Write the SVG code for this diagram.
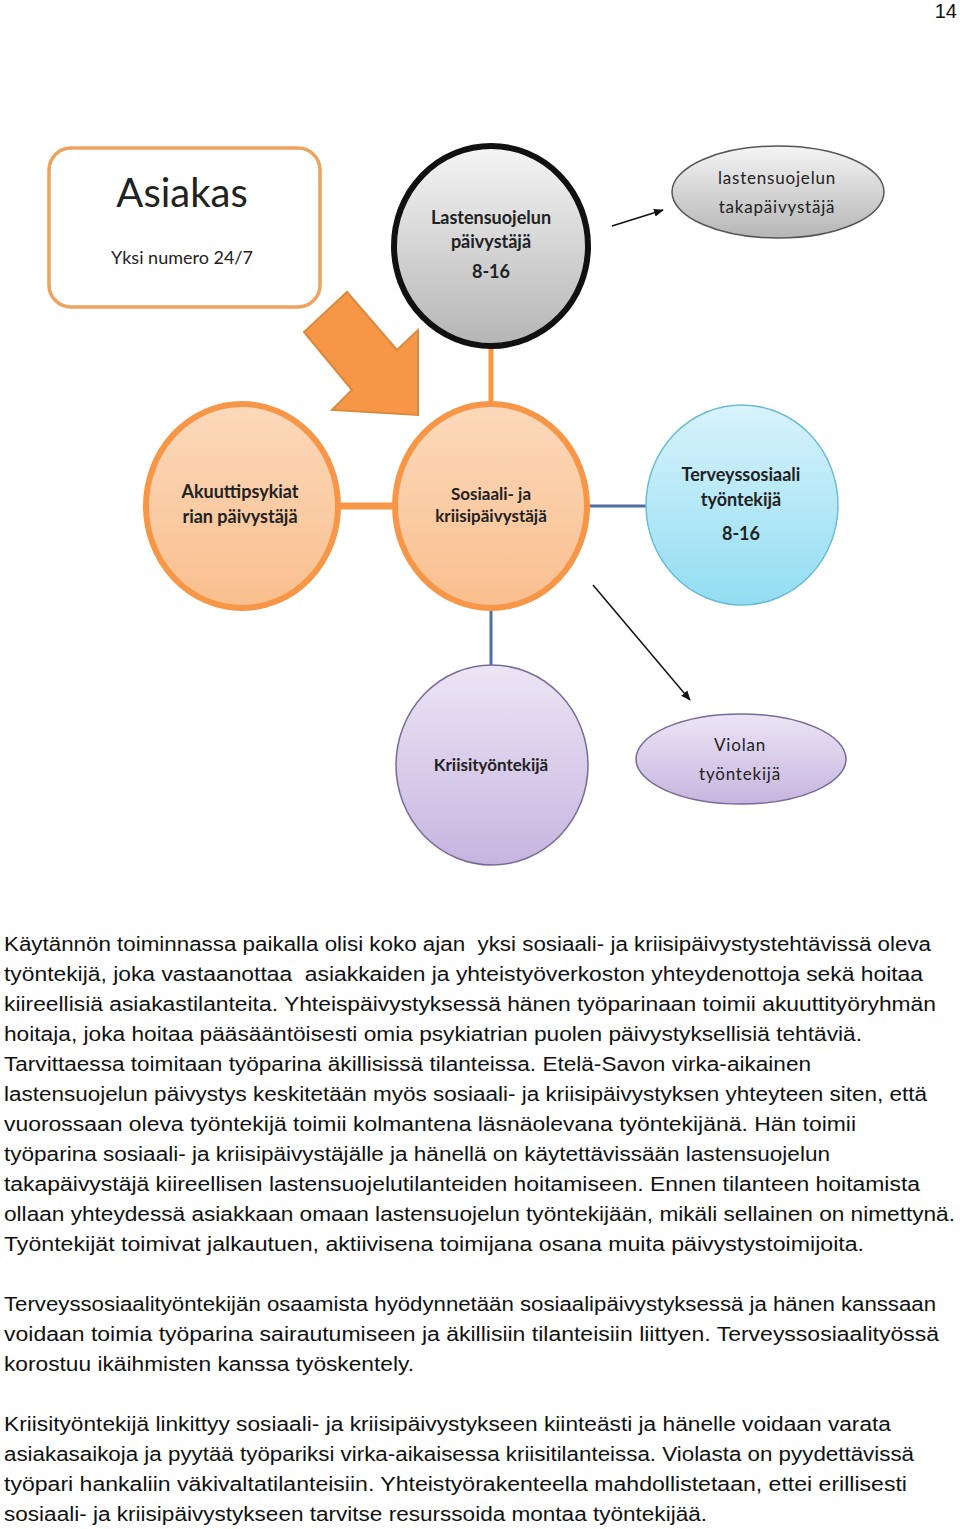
<svg xmlns="http://www.w3.org/2000/svg" width="960" height="1529" viewBox="0 0 960 1529">
<style>
.body{font-family:"Liberation Sans",Arial,sans-serif;font-size:20px;fill:#111;white-space:pre}
.lbl{font-family:Lato,"Open Sans","Liberation Sans",sans-serif;fill:#222;text-anchor:middle}
.b{font-weight:bold;font-size:18px}
.r{font-size:17px;letter-spacing:0.8px}
.orange{fill:url(#gOrange);stroke:#f79646;stroke-width:6}
</style>
<defs>
<linearGradient id="gGray" x1="0" y1="0" x2="0" y2="1"><stop offset="0" stop-color="#f5f5f5"/><stop offset="1" stop-color="#b5b5b5"/></linearGradient>
<linearGradient id="gOrange" x1="0" y1="0" x2="0" y2="1"><stop offset="0" stop-color="#fcd9bb"/><stop offset="1" stop-color="#f9bf8e"/></linearGradient>
<linearGradient id="gBlue" x1="0" y1="0" x2="0" y2="1"><stop offset="0" stop-color="#d8f3fb"/><stop offset="1" stop-color="#92ddf2"/></linearGradient>
<linearGradient id="gPurple" x1="0" y1="0" x2="0" y2="1"><stop offset="0" stop-color="#ece5f5"/><stop offset="1" stop-color="#c6b5df"/></linearGradient>
<marker id="ah" markerWidth="10" markerHeight="10" refX="9" refY="5" orient="auto" markerUnits="userSpaceOnUse"><path d="M0,1 L10,5 L0,9 Z" fill="#111"/></marker>
</defs>
<rect width="960" height="1529" fill="#fff"/>
<text x="957" y="18" text-anchor="end" style="font-family:'Liberation Sans',Arial,sans-serif;font-size:20px" fill="#111">14</text>

<g id="connectors">
<line x1="491" y1="348" x2="491" y2="405" stroke="#f79646" stroke-width="5"/>
<line x1="339" y1="506" x2="394" y2="506" stroke="#f79646" stroke-width="7"/>
<line x1="589" y1="506" x2="646" y2="506" stroke="#4f6fa0" stroke-width="3"/>
<line x1="491" y1="609" x2="491" y2="666" stroke="#4f6fa0" stroke-width="3"/>
<line x1="612" y1="226" x2="663" y2="210" stroke="#111" stroke-width="1.5" marker-end="url(#ah)"/>
<line x1="593" y1="585" x2="690" y2="700" stroke="#111" stroke-width="1.5" marker-end="url(#ah)"/>
<polygon points="347,292 397,350 418,330 418,415 332,410 352,390 304,332" fill="#f79646" stroke="#d98a3f" stroke-width="2" stroke-linejoin="miter"/>
</g>

<g id="asiakas">
<rect x="49" y="148" width="271" height="159" rx="22" fill="#fff" stroke="#eda25e" stroke-width="3.5"/>
<text x="182" y="207" class="lbl" style="font-size:40px" fill="#111">Asiakas</text>
<text x="182" y="264" class="lbl" style="font-size:18px">Yksi numero 24/7</text>
</g>

<g id="lastensuojelun-paivystaja">
<ellipse cx="491" cy="246" rx="97" ry="100" fill="url(#gGray)" stroke="#111" stroke-width="6"/>
<text x="491" y="224" class="lbl b">Lastensuojelun</text>
<text x="491" y="248" class="lbl b">päivystäjä</text>
<text x="491" y="278" class="lbl b">8-16</text>
</g>

<g id="takapaivystaja">
<ellipse cx="778" cy="192" rx="106" ry="46" fill="url(#gGray)" stroke="#555" stroke-width="1.5"/>
<text x="777" y="184" class="lbl r">lastensuojelun</text>
<text x="777" y="213" class="lbl r">takapäivystäjä</text>
</g>

<g id="akuuttipsykiatria">
<ellipse cx="242" cy="506" rx="96" ry="102" class="orange"/>
<text x="240" y="498" class="lbl b">Akuuttipsykiat</text>
<text x="240" y="523" class="lbl b">rian päivystäjä</text>
</g>

<g id="sosiaali-kriisi">
<ellipse cx="491" cy="506" rx="96" ry="102" class="orange"/>
<text x="491" y="500" class="lbl b" style="font-size:17px">Sosiaali- ja</text>
<text x="491" y="522" class="lbl b" style="font-size:17px">kriisipäivystäjä</text>
</g>

<g id="terveyssosiaali">
<ellipse cx="742" cy="505" rx="96" ry="100" fill="url(#gBlue)" stroke="#6cbcd4" stroke-width="1.5"/>
<text x="741" y="481" class="lbl b">Terveyssosiaali</text>
<text x="741" y="506" class="lbl b">työntekijä</text>
<text x="741" y="540" class="lbl b">8-16</text>
</g>

<g id="kriisityontekija">
<ellipse cx="492" cy="765" rx="96" ry="100" fill="url(#gPurple)" stroke="#7a6a96" stroke-width="1.5"/>
<text x="491" y="771" class="lbl b" style="font-size:17px">Kriisityöntekijä</text>
</g>

<g id="violan">
<ellipse cx="741" cy="759" rx="105" ry="45" fill="url(#gPurple)" stroke="#7a6a96" stroke-width="1.5"/>
<text x="740" y="751" class="lbl r">Violan</text>
<text x="740" y="780" class="lbl r">työntekijä</text>
</g>

<g id="text" xml:space="preserve">
<text class="body" x="4" y="951" textLength="927" lengthAdjust="spacingAndGlyphs">Käytännön toiminnassa paikalla olisi koko ajan  yksi sosiaali- ja kriisipäivystystehtävissä oleva</text>
<text class="body" x="4" y="981" textLength="919" lengthAdjust="spacingAndGlyphs">työntekijä, joka vastaanottaa  asiakkaiden ja yhteistyöverkoston yhteydenottoja sekä hoitaa</text>
<text class="body" x="4" y="1011" textLength="932" lengthAdjust="spacingAndGlyphs">kiireellisiä asiakastilanteita. Yhteispäivystyksessä hänen työparinaan toimii akuuttityöryhmän</text>
<text class="body" x="4" y="1041" textLength="858" lengthAdjust="spacingAndGlyphs">hoitaja, joka hoitaa pääsääntöisesti omia psykiatrian puolen päivystyksellisiä tehtäviä.</text>
<text class="body" x="4" y="1071" textLength="807" lengthAdjust="spacingAndGlyphs">Tarvittaessa toimitaan työparina äkillisissä tilanteissa. Etelä-Savon virka-aikainen</text>
<text class="body" x="4" y="1101" textLength="923" lengthAdjust="spacingAndGlyphs">lastensuojelun päivystys keskitetään myös sosiaali- ja kriisipäivystyksen yhteyteen siten, että</text>
<text class="body" x="4" y="1131" textLength="852" lengthAdjust="spacingAndGlyphs">vuorossaan oleva työntekijä toimii kolmantena läsnäolevana työntekijänä. Hän toimii</text>
<text class="body" x="4" y="1161" textLength="826" lengthAdjust="spacingAndGlyphs">työparina sosiaali- ja kriisipäivystäjälle ja hänellä on käytettävissään lastensuojelun</text>
<text class="body" x="4" y="1191" textLength="916" lengthAdjust="spacingAndGlyphs">takapäivystäjä kiireellisen lastensuojelutilanteiden hoitamiseen. Ennen tilanteen hoitamista</text>
<text class="body" x="4" y="1221" textLength="951" lengthAdjust="spacingAndGlyphs">ollaan yhteydessä asiakkaan omaan lastensuojelun työntekijään, mikäli sellainen on nimettynä.</text>
<text class="body" x="4" y="1251" textLength="860" lengthAdjust="spacingAndGlyphs">Työntekijät toimivat jalkautuen, aktiivisena toimijana osana muita päivystystoimijoita.</text>
<text class="body" x="4" y="1311" textLength="932" lengthAdjust="spacingAndGlyphs">Terveyssosiaalityöntekijän osaamista hyödynnetään sosiaalipäivystyksessä ja hänen kanssaan</text>
<text class="body" x="4" y="1341" textLength="935" lengthAdjust="spacingAndGlyphs">voidaan toimia työparina sairautumiseen ja äkillisiin tilanteisiin liittyen. Terveyssosiaalityössä</text>
<text class="body" x="4" y="1371" textLength="410" lengthAdjust="spacingAndGlyphs">korostuu ikäihmisten kanssa työskentely.</text>
<text class="body" x="4" y="1431" textLength="887" lengthAdjust="spacingAndGlyphs">Kriisityöntekijä linkittyy sosiaali- ja kriisipäivystykseen kiinteästi ja hänelle voidaan varata</text>
<text class="body" x="4" y="1461" textLength="910" lengthAdjust="spacingAndGlyphs">asiakasaikoja ja pyytää työpariksi virka-aikaisessa kriisitilanteissa. Violasta on pyydettävissä</text>
<text class="body" x="4" y="1491" textLength="903" lengthAdjust="spacingAndGlyphs">työpari hankaliin väkivaltatilanteisiin. Yhteistyörakenteella mahdollistetaan, ettei erillisesti</text>
<text class="body" x="4" y="1521" textLength="703" lengthAdjust="spacingAndGlyphs">sosiaali- ja kriisipäivystykseen tarvitse resurssoida montaa työntekijää.</text>
</g>
</svg>
